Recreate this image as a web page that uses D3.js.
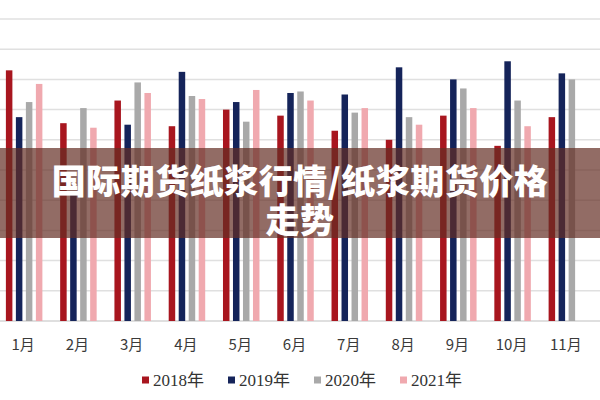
<!DOCTYPE html>
<html>
<head>
<meta charset="utf-8">
<script src="https://cdn.jsdelivr.net/npm/d3@7"></script>
<style>
    body { margin: 0; background: #fff; }
    svg { display: block; }
</style>
</head>
<body>
<svg id="chart" width="600" height="400"></svg>
<script>
const months = ['1月', '2月', '3月', '4月', '5月', '6月', '7月', '8月', '9月', '10月', '11月']
const years = ['2018年', '2019年', '2020年', '2021年']
const colors = ['#a8161f', '#15245a', '#a9a9a9', '#f0a9af']
const gridTicks = [0, 1, 2, 3, 4, 5, 6, 7, 8, 9, 10]

const v2018 = [8.3, 6.55, 7.3, 6.45, 7.0, 6.8, 6.3, 6.0, 6.8, 5.8, 6.75]
const v2019 = [6.75, 4.2, 6.5, 8.25, 7.25, 7.55, 7.5, 8.4, 8.0, 8.6, 8.2]
const v2020 = [7.25, 7.05, 7.9, 7.45, 6.6, 7.6, 6.9, 6.75, 7.7, 7.3, 8.0]
const v2021 = [7.85, 6.4, 7.55, 7.35, 7.65, 7.3, 7.05, 6.5, 7.05, 6.45]

const title = ['国际期货纸浆行情/纸浆期货价格', '走势']

let series = [v2018, v2019, v2020, v2021]
let data = months.map((m, i) => ({
    month: m,
    values: years.map((y, j) => ({ year: y, idx: j, value: series[j][i] }))
        .filter(d => d.value != null)
}))

let svg = d3.select('#chart')

let x0 = d3.scaleBand()
    .domain(months)
    .range([-3, 594])

let x1 = d3.scaleBand()
    .domain(years)
    .range([0, 36.5])
    .paddingInner(0.35)

let y = d3.scaleLinear()
    .domain([0, 10])
    .range([321, 19])

// grid lines
svg.append('g')
    .attr('class', 'grid')
    .selectAll('line')
    .data(gridTicks)
    .enter().append('line')
    .attr('x1', 0)
    .attr('x2', 600)
    .attr('y1', d => y(d))
    .attr('y2', d => y(d))
    .style('stroke', (d) => d == 0 ? '#d4d4d4' : '#e0e0e0')
    .style('stroke-width', 1.5)

// bars
let groups = svg.append('g')
    .attr('class', 'bars')
    .selectAll('g')
    .data(data)
    .enter().append('g')
    .attr('transform', d => 'translate(' + (x0(d.month) + (x0.bandwidth() - 36.5) / 2) + ',0)')

groups.selectAll('rect')
    .data(d => d.values)
    .enter().append('rect')
    .attr('x', d => x1(d.year))
    .attr('y', d => y(d.value))
    .attr('width', x1.bandwidth())
    .attr('height', d => y(0) - y(d.value))
    .style('fill', d => colors[d.idx])

// month labels
svg.append('g')
    .attr('class', 'x-labels')
    .selectAll('text')
    .data(months)
    .enter().append('text')
    .attr('x', d => x0(d) + x0.bandwidth() / 2 - 1)
    .attr('y', 350)
    .attr('text-anchor', 'middle')
    .style('font-family', '"Noto Sans CJK SC", "Noto Sans", sans-serif')
    .style('font-size', '15px')
    .attr('fill', '#3a3a3a')
    .text(d => d)

// legend
let legend = svg.append('g')
    .attr('class', 'legend')
    .attr('transform', 'translate(142,380)')
    .selectAll('g')
    .data(years)
    .enter().append('g')
    .attr('transform', (d, i) => 'translate(' + (i * 86) + ',0)')

legend.append('rect')
    .attr('x', 0)
    .attr('y', -3.5)
    .attr('width', 7)
    .attr('height', 7)
    .style('fill', (d, i) => colors[i])

legend.append('text')
    .attr('x', 11)
    .attr('y', 6)
    .style('font-family', '"Liberation Serif", "Noto Sans CJK SC", serif')
    .style('font-size', '17px')
    .attr('fill', '#333')
    .text(d => d)

// title banner
svg.append('rect')
    .attr('x', 0)
    .attr('y', 148)
    .attr('width', 600)
    .attr('height', 90)
    .style('fill', 'rgba(100, 45, 35, 0.7)')

svg.append('g')
    .attr('class', 'title')
    .selectAll('text')
    .data(title)
    .enter().append('text')
    .attr('x', 300)
    .attr('y', (d, i) => 194 + i * 39)
    .attr('text-anchor', 'middle')
    .style('font-family', '"Noto Sans CJK SC", sans-serif')
    .style('font-weight', '900')
    .style('font-size', '34px')
    .style('letter-spacing', '0.5px')
    .attr('fill', '#fff')
    .text(d => d)
</script>
</body>
</html>
